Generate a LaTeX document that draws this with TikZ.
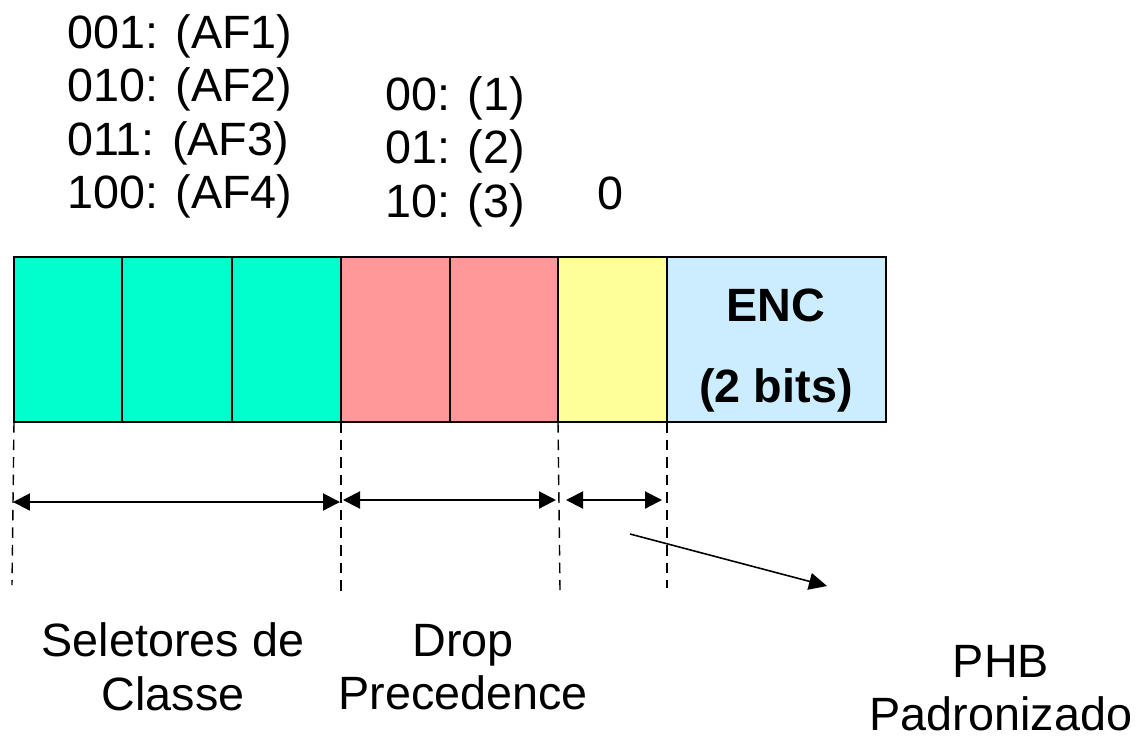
\documentclass[tikz,border=0pt]{standalone}
\usepackage{fontspec}
\setmainfont{Liberation Sans}
\usepackage{xcolor}
\usetikzlibrary{positioning, arrows.meta, calc}

\definecolor{clsteal}{HTML}{00FFCC}
\definecolor{droppink}{HTML}{FF9999}
\definecolor{zeroyellow}{HTML}{FFFF99}
\definecolor{encblue}{HTML}{CCECFF}

\begin{document}
\begin{tikzpicture}[
    x=0.02cm, y=-0.02cm,
    cell/.style={rectangle, draw, line width=1.1pt, anchor=north west, inner sep=0pt, outer sep=0pt, minimum height=3.3cm, minimum width=#1},
    cell/.default=2.18cm,
    txt/.style={font=\fontsize{26.6}{30.5}\selectfont, inner sep=0pt},
    guide/.style={dashed, line width=0.8pt, dash pattern=on 6pt off 4pt},
    arr/.style={{Triangle[length=0.34cm, width=0.34cm]}-{Triangle[length=0.34cm, width=0.34cm]}, line width=1.2pt},
    sarr/.style={-{Triangle[length=0.36cm, width=0.34cm]}, line width=0.9pt},
]
\useasboundingbox (0,0) rectangle (1138,738);

% Class selector bits
\node[cell=2.16cm, fill=clsteal] (cs1) at (14,257) {};
\node[cell=2.2cm, fill=clsteal] (cs2) at (122,257) {};
\node[cell=2.18cm, fill=clsteal] (cs3) at (232,257) {};

% Drop precedence bits
\node[cell=2.18cm, fill=droppink] (dp1) at (341,257) {};
\node[cell=2.16cm, fill=droppink] (dp2) at (450,257) {};

% Zero bit
\node[cell=2.18cm, fill=zeroyellow] (zb) at (558,257) {};

% ENC
\node[cell=4.38cm, fill=encblue] (enc) at (667,257) {};
\node[txt, font=\fontsize{26.6}{30.5}\selectfont\bfseries] (enctop) at (776,305) {ENC};
\node[txt, font=\fontsize{26.6}{30.5}\selectfont\bfseries] (encbot) at (776,390) {(2 bits)};

% Codes above
\node[txt, align=left, anchor=north west] (afcodes) at (67,14) {001: (AF1)\\010: (AF2)\\011: (AF3)\\100: (AF4)};
\node[txt, align=left, anchor=north west] (dpcodes) at (385,76) {00: (1)\\01: (2)\\10: (3)};
\node[txt] (zero) at (610,193) {0};

% Guide lines
\coordinate (g1) at (12,585);
\coordinate (g2) at (341,595);
\coordinate (g3) at (560,590);
\coordinate (g4) at (667,588);
\draw[guide] (cs1.south west) -- (g1);
\draw[guide] (dp1.south west) -- (g2);
\draw[guide] (zb.south west) -- (g3);
\draw[guide] (enc.south west) -- (g4);

% Widths
\coordinate (a1) at (13,502);
\coordinate (a2) at (340,502);
\coordinate (a3) at (343,500);
\coordinate (a4) at (556,500);
\coordinate (a5) at (566,500);
\coordinate (a6) at (662,500);
\draw[arr] (a1) -- (a2);
\draw[arr] (a3) -- (a4);
\draw[arr] (a5) -- (a6);

% Labels
\node[txt, align=center] (seletores) at (173,667) {Seletores de\\Classe};
\node[txt, align=center] (drop) at (463,667) {Drop\\Precedence};
\node[txt, align=center] (phb) at (1001,688) {PHB\\Padronizado};

\coordinate (pstart) at (630,534);
\coordinate (pend) at (827,586);
\draw[sarr] (pstart) -- (pend);

\end{tikzpicture}
\end{document}
